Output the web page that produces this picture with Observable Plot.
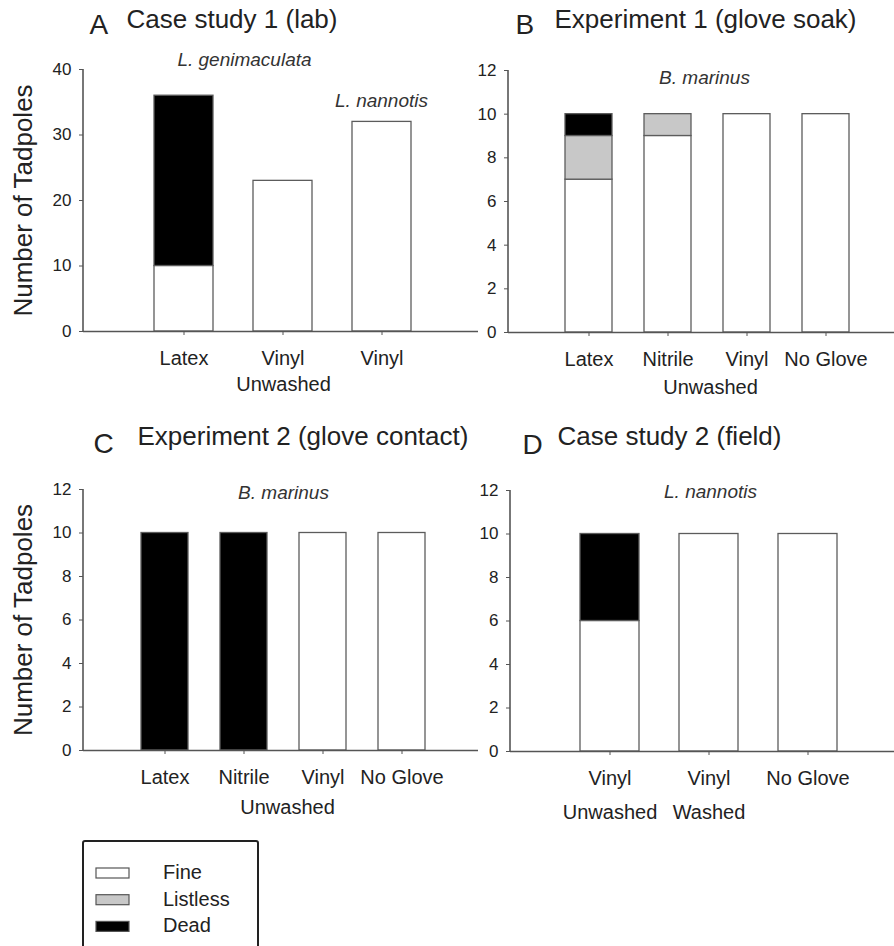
<!DOCTYPE html>
<html>
<head>
<meta charset="utf-8">
<script src="https://cdn.jsdelivr.net/npm/d3@7"></script>
<script src="https://cdn.jsdelivr.net/npm/@observablehq/plot@0.6"></script>
<style>
  html, body { margin: 0; padding: 0; background: #fff; }
  body { width: 894px; height: 946px; overflow: hidden; position: relative;
         font-family: "Liberation Sans", Arial, sans-serif; }
  .panel { position: absolute; }
  .panel svg { overflow: visible; }
</style>
</head>
<body>
<script>
// Tadpole condition categories, stacked bottom to top
const statuses = ["Fine", "Listless", "Dead"];
const statusColors = ["#ffffff", "#c8c8c8", "#000000"];

// A — Case study 1 (lab)
const aKeys = ["genimaculata-latex", "genimaculata-vinyl", "nannotis-vinyl"];
const aLabels = ["Latex", "Vinyl", "Vinyl"];
const aFine = [10, 23, 32];
const aListless = [0, 0, 0];
const aDead = [26, 0, 0];
const aTicks = [0, 10, 20, 30, 40];

// B — Experiment 1 (glove soak)
const bKeys = ["Latex", "Nitrile", "Vinyl", "No Glove"];
const bFine = [7, 9, 10, 10];
const bListless = [2, 1, 0, 0];
const bDead = [1, 0, 0, 0];

// C — Experiment 2 (glove contact)
const cKeys = ["Latex", "Nitrile", "Vinyl", "No Glove"];
const cFine = [0, 0, 10, 10];
const cListless = [0, 0, 0, 0];
const cDead = [10, 10, 0, 0];

// D — Case study 2 (field)
const dKeys = ["vinyl-unwashed", "vinyl-washed", "no-glove"];
const dLabels = ["Vinyl", "Vinyl", "No Glove"];
const dSubLabels = ["Unwashed", "Washed", ""];
const dFine = [6, 10, 10];
const dListless = [0, 0, 0];
const dDead = [4, 0, 0];

const countTicks = [0, 2, 4, 6, 8, 10, 12];

const FONT = "Liberation Sans, Arial, sans-serif";
const INK = "#222";
const LINE = "#555";

function tidy(keys, fine, listless, dead) {
  const cols = [fine, listless, dead];
  return keys.flatMap((key, i) =>
    statuses.map((status, j) => ({key, status, count: cols[j][i]}))
            .filter(d => d.count > 0));
}

// vertical axis line along the left edge of the frame
function spine(index, scales, values, dims) {
  const [y0, y1] = scales.scales.y.domain;
  return d3.create("svg:line")
    .attr("x1", dims.marginLeft).attr("x2", dims.marginLeft)
    .attr("y1", scales.y(y1)).attr("y2", scales.y(y0))
    .attr("stroke", LINE).attr("stroke-width", 1.6)
    .node();
}

function panel(cfg) {
  const {left, top, width, height, ml, mr, mt, mb, keys, labels, rows,
         yMax, yTicks, xRange, letter, title, letterAt, titleAt, notes, extra, yLabel} = cfg;
  // text placed relative to the frame's top-left corner, baseline at (X, Y)
  const placed = (text, X, Y, opts) => Plot.text([text], {
    text: d => d, frameAnchor: "top-left", dx: X - ml, dy: Y - mt,
    lineAnchor: "bottom", fill: INK, fontFamily: FONT, ...opts
  });
  const marks = [
    Plot.barY(rows, {x: "key", y: "count", fill: "status", stroke: "#5c5c5c", strokeWidth: 1.3}),
    Plot.ruleY([0], {stroke: LINE, strokeWidth: 1.6}),
    spine,
    Plot.axisY({ticks: yTicks, tickSize: 4, tickPadding: 8, fontSize: 17,
                stroke: LINE, fill: INK, label: null, fontFamily: FONT}),
    Plot.axisX({tickSize: 4, tickPadding: 15, fontSize: 20, stroke: LINE, fill: INK, label: null,
                fontFamily: FONT, tickFormat: d => labels[keys.indexOf(d)]}),
    placed(letter, letterAt[0], letterAt[1], {fontSize: 28}),
    placed(title, titleAt[0], titleAt[1], {fontSize: 26}),
    ...notes.map(n => placed(n.text, n.x, n.y, {textAnchor: "middle", fontSize: 19,
                                                fontStyle: "italic", fill: "#333",
                                                letterSpacing: "0.5px"})),
    ...(cfg.groups || []).map(g => placed(g.text, g.x, g.y, {textAnchor: "middle", fontSize: 20})),
    ...(extra || [])
  ];
  if (yLabel) {
    marks.push(Plot.text([yLabel], {text: d => d, frameAnchor: "left", rotate: -90, dx: 23 - ml,
      textAnchor: "middle", lineAnchor: "middle", fontSize: 26, fill: INK, fontFamily: FONT}));
  }
  const svg = Plot.plot({
    width, height, marginLeft: ml, marginRight: mr, marginTop: mt, marginBottom: mb,
    style: {background: "transparent", fontFamily: FONT, overflow: "visible"},
    x: {type: "band", domain: keys, range: xRange, paddingInner: 0.4, paddingOuter: 0.2, align: 0.5},
    y: {domain: [0, yMax]},
    color: {domain: statuses, range: statusColors},
    marks
  });
  const div = document.createElement("div");
  div.className = "panel";
  div.style.left = left + "px";
  div.style.top = top + "px";
  div.appendChild(svg);
  document.body.appendChild(div);
}

panel({
  left: 0, top: 0, width: 480, height: 420, ml: 83, mr: 2, mt: 69, mb: 89,
  keys: aKeys, labels: aLabels, rows: tidy(aKeys, aFine, aListless, aDead),
  yMax: 40, yTicks: aTicks, xRange: [132.5, 432],
  letter: "A", letterAt: [89, 33], title: "Case study 1 (lab)", titleAt: [126, 27],
  notes: [{text: "L. genimaculata", x: 244, y: 65}, {text: "L. nannotis", x: 381, y: 106}],
  groups: [{text: "Unwashed", x: 283, y: 390}],
  yLabel: "Number of Tadpoles"
});

panel({
  left: 440, top: 0, width: 454, height: 420, ml: 68, mr: 0, mt: 70, mb: 88,
  keys: bKeys, labels: bKeys, rows: tidy(bKeys, bFine, bListless, bDead),
  yMax: 12, yTicks: countTicks, xRange: [108.3, 426.3],
  letter: "B", letterAt: [75, 33], title: "Experiment 1 (glove soak)", titleAt: [114, 27],
  notes: [{text: "B. marinus", x: 264, y: 83}],
  groups: [{text: "Unwashed", x: 270, y: 393}]
});

panel({
  left: 0, top: 420, width: 480, height: 420, ml: 83, mr: 2, mt: 69, mb: 90,
  keys: cKeys, labels: cKeys, rows: tidy(cKeys, cFine, cListless, cDead),
  yMax: 12, yTicks: countTicks, xRange: [123.7, 442],
  letter: "C", letterAt: [93, 32], title: "Experiment 2 (glove contact)", titleAt: [137, 24],
  notes: [{text: "B. marinus", x: 283, y: 78}],
  groups: [{text: "Unwashed", x: 287, y: 393}],
  yLabel: "Number of Tadpoles"
});

panel({
  left: 440, top: 420, width: 454, height: 420, ml: 70, mr: 0, mt: 70, mb: 89,
  keys: dKeys, labels: dLabels, rows: tidy(dKeys, dFine, dListless, dDead),
  yMax: 12, yTicks: countTicks, xRange: [119.4, 417.3],
  letter: "D", letterAt: [82, 33], title: "Case study 2 (field)", titleAt: [117, 24],
  notes: [{text: "L. nannotis", x: 270, y: 77}],
  extra: [Plot.text(dKeys, {x: d => d, text: (d, i) => dSubLabels[i], frameAnchor: "bottom",
                            dy: 67, lineAnchor: "bottom", fontSize: 20, fill: INK, fontFamily: FONT})]
});

// Legend box for the three tadpole conditions
const legend = d3.select("body").append("svg")
  .attr("width", 180).attr("height", 110)
  .style("position", "absolute").style("left", "82px").style("top", "840px")
  .style("font-family", FONT);
legend.append("rect")
  .attr("x", 1).attr("y", 1).attr("width", 175).attr("height", 200).attr("rx", 2)
  .attr("fill", "none").attr("stroke", "#222").attr("stroke-width", 2);
const item = legend.selectAll("g.item").data(statuses).join("g")
  .attr("class", "item")
  .attr("transform", (d, i) => `translate(0, ${i * 26.7})`);
item.append("rect")
  .attr("x", 14).attr("y", 28).attr("width", 33).attr("height", 10)
  .attr("fill", (d, i) => statusColors[i]).attr("stroke", "#555").attr("stroke-width", 1.2);
item.append("text")
  .attr("x", 81).attr("y", 39).attr("font-size", 20).attr("fill", INK)
  .text(d => d);
</script>
</body>
</html>
